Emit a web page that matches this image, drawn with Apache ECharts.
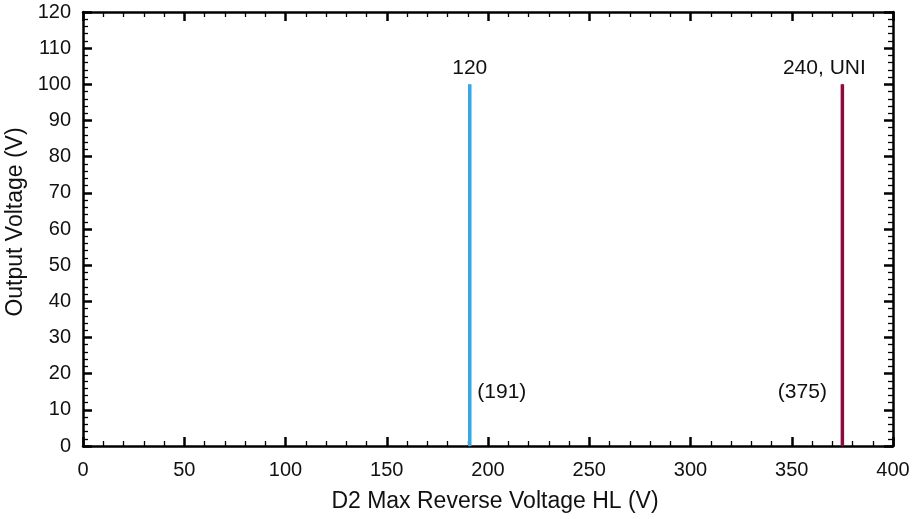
<!DOCTYPE html>
<html>
<head>
<meta charset="utf-8">
<script src="https://cdn.jsdelivr.net/npm/echarts@6/dist/echarts.min.js"></script>
<style>
html,body{margin:0;padding:0;background:#fff;}
#chart{width:914px;height:519px;}
</style>
</head>
<body>
<div id="chart"></div>
<script>
// Output voltage vs D2 max reverse voltage (high line)
const lineNames = ['120', '240, UNI'];
const reverseVoltage = [191, 375];
const outputVoltage = [100, 100];
const valueTags = ['(191)', '(375)'];
const tagHeights = [15, 15];
const lineColors = ['#38a8e4', '#8a0c3e'];

const xTicks = { min: 0, max: 400, step: 50 };
const yTicks = { min: 0, max: 120, step: 10 };

const font = '"Liberation Sans", Arial, sans-serif';
const tagSides = ['right', 'left'];
const tagGaps = [7, 15];
const nameOffsets = [[0, 0], [-18, 0]];

function axisBase() {
  return {
    axisLine: { show: true, onZero: false, lineStyle: { color: '#000', width: 2.5 } },
    axisTick: { show: true, inside: true, length: 9, lineStyle: { color: '#000', width: 2.5 } },
    minorTick: { show: true, splitNumber: 5, length: 5, lineStyle: { color: '#000', width: 1.3 } },
    splitLine: { show: false }
  };
}

const series = reverseVoltage.map((xv, i) => ({
  type: 'line',
  name: lineNames[i],
  xAxisIndex: 0,
  yAxisIndex: 0,
  symbol: 'circle',
  symbolSize: 1,
  showSymbol: true,
  itemStyle: { color: lineColors[i] },
  lineStyle: { color: lineColors[i], width: 3.5 },
  label: { show: false },
  data: [
    { value: [xv, 0] },
    {
      value: [xv, tagHeights[i]],
      label: {
        show: true, formatter: valueTags[i], position: tagSides[i], distance: tagGaps[i],
        color: '#111', fontSize: 21, fontFamily: font
      }
    },
    {
      value: [xv, outputVoltage[i]],
      label: {
        show: true, formatter: lineNames[i], position: 'top', distance: 5,
        offset: nameOffsets[i], color: '#111', fontSize: 21, fontFamily: font
      }
    }
  ]
}));

const chart = echarts.init(document.getElementById('chart'), null, { renderer: 'canvas' });
chart.setOption({
  animation: false,
  backgroundColor: '#fff',
  grid: { left: 83, right: 21, top: 12, bottom: 73, containLabel: false, outerBoundsMode: 'none' },
  xAxis: [
    Object.assign(axisBase(), {
      type: 'value', position: 'bottom', min: xTicks.min, max: xTicks.max, interval: xTicks.step,
      name: 'D2 Max Reverse Voltage HL (V)', nameLocation: 'middle', nameGap: 44,
      nameTextStyle: { color: '#111', fontSize: 23, fontFamily: font, padding: [0, 0, 0, 14] },
      axisLabel: { color: '#111', fontSize: 20, fontFamily: font, margin: 14 }
    }),
    Object.assign(axisBase(), {
      type: 'value', position: 'top', min: xTicks.min, max: xTicks.max, interval: xTicks.step,
      axisLabel: { show: false }
    })
  ],
  yAxis: [
    Object.assign(axisBase(), {
      type: 'value', position: 'left', min: yTicks.min, max: yTicks.max, interval: yTicks.step,
      name: 'Output Voltage (V)', nameLocation: 'middle', nameGap: 48, nameRotate: 90,
      nameTextStyle: { color: '#111', fontSize: 23, fontFamily: font, padding: [0, 0, 0, 14] },
      axisLabel: { color: '#111', fontSize: 20, fontFamily: font, margin: 12 }
    }),
    Object.assign(axisBase(), {
      type: 'value', position: 'right', min: yTicks.min, max: yTicks.max, interval: yTicks.step,
      axisLabel: { show: false }
    })
  ],
  series: series
});
</script>
</body>
</html>
